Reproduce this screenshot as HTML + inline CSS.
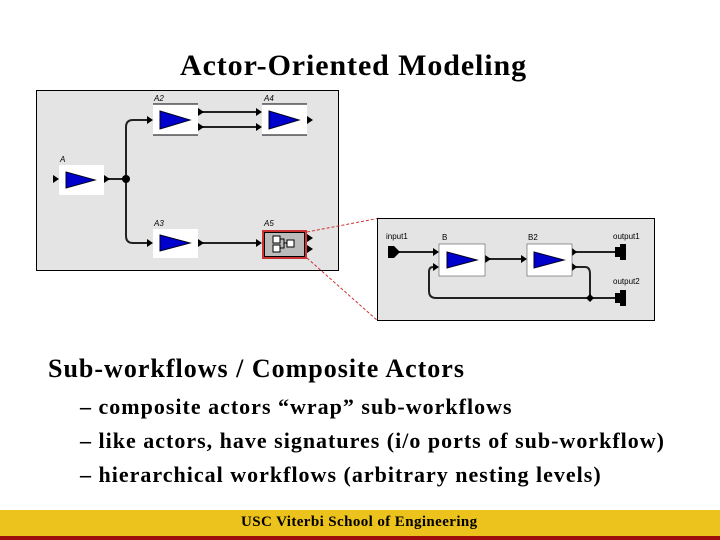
<!DOCTYPE html>
<html><head><style>
body{margin:0;width:720px;height:540px;background:#fff;position:relative;overflow:hidden;font-family:"Liberation Serif",serif}
.t{position:absolute;white-space:nowrap;color:#000;font-weight:bold}
</style></head><body>
<div class="t" style="left:180px;top:49px;font-size:30px;letter-spacing:0.9px">Actor-Oriented Modeling</div>
<svg width="720" height="540" style="position:absolute;left:0;top:0" font-family="Liberation Sans, sans-serif">
<rect x="36.5" y="90.5" width="302" height="180" fill="#e4e4e4" stroke="#000"/>
<g stroke="#222" stroke-width="2" fill="none">
<line x1="108" y1="179" x2="126" y2="179"/>
<path d="M147,120 H133 Q126,120 126,127 V236 Q126,243 133,243 H147"/>
<line x1="202" y1="112" x2="256" y2="112"/>
<line x1="202" y1="127" x2="256" y2="127"/>
<line x1="202" y1="243" x2="256" y2="243"/>
</g>
<circle cx="126" cy="179" r="4" fill="#000"/>
<g fill="#000">
<path d="M53,175 L59,179 L53,183z"/>
<path d="M104,175 L110,179 L104,183z"/>
<path d="M147,116 L153,120 L147,124z"/>
<path d="M198,108 L204,112 L198,116z"/>
<path d="M198,123 L204,127 L198,131z"/>
<path d="M256,108 L262,112 L256,116z"/>
<path d="M256,123 L262,127 L256,131z"/>
<path d="M307,116 L313,120 L307,124z"/>
<path d="M147,239 L153,243 L147,247z"/>
<path d="M198,239 L204,243 L198,247z"/>
<path d="M256,239 L262,243 L256,247z"/>
<path d="M307,234 L313,238 L307,242z"/>
<path d="M307,245 L313,249 L307,253z"/>
</g>
<rect x="59" y="165" width="45" height="30" fill="#fff"/>
<rect x="153" y="104" width="45" height="31" fill="#fff"/>
<line x1="153" y1="104" x2="198" y2="104" stroke="#000"/><line x1="153" y1="135" x2="198" y2="135" stroke="#000"/>
<rect x="262" y="104" width="45" height="31" fill="#fff"/>
<line x1="262" y1="104" x2="307" y2="104" stroke="#000"/><line x1="262" y1="135" x2="307" y2="135" stroke="#000"/>
<rect x="153" y="229" width="45" height="29" fill="#fff"/>
<g fill="#00c" stroke="#002">
<path d="M66,172 L95,180 L66,188z"/>
<path d="M160,111 L190,120 L160,129z"/>
<path d="M269,111 L299,120 L269,129z"/>
<path d="M160,235 L190,243 L160,251z"/>
</g>
<rect x="263" y="231" width="43" height="27" fill="#bbb" stroke="#c33" stroke-width="2"/>
<rect x="264.5" y="232.5" width="40" height="24" fill="none" stroke="#000"/>
<g fill="#fff" stroke="#000"><rect x="273" y="236" width="7" height="7"/><rect x="273" y="245" width="7" height="7"/><rect x="287" y="240" width="7" height="7"/></g>
<path d="M280,239 H284 V248 H280 M284,243 H287" stroke="#000" fill="none"/>
<g font-size="8" font-style="italic" fill="#000">
<text x="60" y="162">A</text><text x="154" y="101">A2</text><text x="264" y="101">A4</text>
<text x="154" y="226">A3</text><text x="264" y="226">A5</text>
</g>
<line x1="307" y1="232" x2="380" y2="218" stroke="#c33" stroke-dasharray="3,2"/>
<line x1="307" y1="258" x2="378" y2="321" stroke="#c33" stroke-dasharray="3,2"/>
<rect x="377.5" y="218.5" width="277" height="102" fill="#e4e4e4" stroke="#000"/>
<g stroke="#222" stroke-width="2" fill="none">
<line x1="398" y1="252" x2="434" y2="252"/>
<line x1="489" y1="259" x2="522" y2="259"/>
<line x1="575" y1="252" x2="616" y2="252"/>
<path d="M434,267 H433 Q429,267 429,272 V291 Q429,298 436,298 H616"/>
<path d="M575,267 H585 Q590,267 590,274 V298"/>
</g>
<path d="M590,294 L594,298 L590,302 L586,298z" fill="#000"/>
<g fill="#000">
<path d="M388,246 L394,246 L400,252 L394,258 L388,258z"/>
<path d="M433,248 L439,252 L433,256z"/>
<path d="M433,263 L439,267 L433,271z"/>
<path d="M485,255 L491,259 L485,263z"/>
<path d="M521,255 L527,259 L521,263z"/>
<path d="M572,248 L577,252 L572,256z"/>
<path d="M572,263 L577,267 L572,271z"/>
<path d="M615,247 L620,247 L620,244 L626,244 L626,260 L620,260 L620,257 L615,257z"/>
<path d="M615,293 L620,293 L620,290 L626,290 L626,306 L620,306 L620,303 L615,303z"/>
</g>
<rect x="439" y="244" width="46" height="32" fill="#fff" stroke="#555" stroke-width="0.6"/>
<rect x="527" y="244" width="45" height="32" fill="#fff" stroke="#555" stroke-width="0.6"/>
<g fill="#00c" stroke="#002">
<path d="M447,252 L477,260 L447,268z"/>
<path d="M534,252 L564,260 L534,268z"/>
</g>
<g font-size="8" fill="#000">
<text x="386" y="239">input1</text><text x="442" y="240">B</text><text x="528" y="240">B2</text>
<text x="613" y="239">output1</text><text x="613" y="284">output2</text>
</g>
<rect x="0" y="510" width="720" height="27" fill="#ecc21c"/>
<rect x="0" y="536" width="720" height="4" fill="#9c0e0e"/>
</svg>
<div class="t" style="left:48px;top:354px;font-size:26px;letter-spacing:1px">Sub-workflows / Composite Actors</div>
<div class="t" style="left:80px;top:394px;font-size:22px;letter-spacing:1px">– composite actors “wrap” sub-workflows</div>
<div class="t" style="left:80px;top:428px;font-size:22px;letter-spacing:1px">– like actors, have signatures (i/o ports of sub-workflow)</div>
<div class="t" style="left:80px;top:462px;font-size:22px;letter-spacing:1px">– hierarchical workflows (arbitrary nesting levels)</div>
<div class="t" style="left:241px;top:514px;font-size:15px;letter-spacing:0.4px">USC Viterbi School of Engineering</div>
</body></html>
